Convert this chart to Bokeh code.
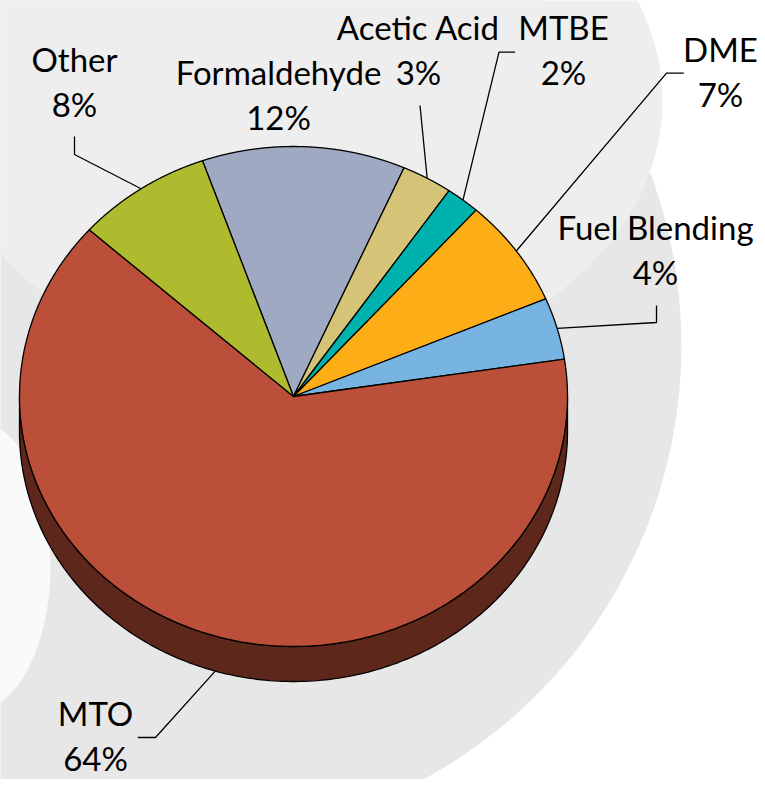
import numpy as np
from bokeh.plotting import figure
from bokeh.models import Range1d
from bokeh.embed import file_html
from bokeh.resources import INLINE
from bokeh.core.properties import value

# ---------------- data ----------------
categories = ["Formaldehyde", "Acetic Acid", "MTBE", "DME", "Fuel Blending", "MTO", "Other"]
shares = [12, 3, 2, 7, 4, 64, 8]
pct_labels = ["12%", "3%", "2%", "7%", "4%", "64%", "8%"]

# ---------------- style ----------------
colors = ["#9FA9C1", "#D5C378", "#00B2AE", "#FDAE17", "#78B4E2", "#BC4F39", "#AEBB2F"]
CX, CY = 293.0, 396.0        # pie centre (screen px)
RX, RY = 274.0, 250.0        # ellipse radii
DEPTH = 35.0                 # 3-D thickness
START = -19.4                # start angle, degrees clockwise from top
FONT = "Lato"
FSIZE = "33px"
LINE_GAP = 45
TEXT_DY = -14                # renderer baseline correction
W, H = 757, 779

# label layout: (centre x, baseline of first line, leader-line elbow points)
layout = {
    "Formaldehyde": (278, 85, []),
    "Acetic Acid": (418, 40, [(419.5, 105)]),
    "MTBE": (563, 40, [(514.6, 51.7), (498.5, 51.7)]),
    "DME": (720, 62, [(683.3, 72.7), (666, 72.7)]),
    "Fuel Blending": (655, 240, [(656, 305), (656, 322)]),
    "MTO": (95, 726, [(137.3, 737), (155, 737)]),
    "Other": (74, 72, [(74, 136), (74, 154)]),
}


def pt(theta_deg, dy=0.0):
    t = np.radians(theta_deg)
    return CX + RX * np.sin(t), CY - RY * np.cos(t) + dy


def darker(hexc, f=0.5):
    h = hexc.lstrip("#")
    r, g, b = (int(h[i:i + 2], 16) for i in (0, 2, 4))
    return "#%02x%02x%02x" % (int(r * f), int(g * f), int(b * f))


total = float(sum(shares))
bounds = np.concatenate([[0], np.cumsum(shares)]) / total * 360.0 + START

p = figure(width=W, height=H, x_range=Range1d(0, W), y_range=Range1d(H, 0),
           output_backend="svg", toolbar_location=None,
           x_axis_location=None, y_axis_location=None, min_border=0)
p.outline_line_color = None
p.xgrid.visible = False
p.ygrid.visible = False
p.background_fill_color = "white"
p.border_fill_color = "white"

# background swoosh decoration
p.ellipse(x=187, y=345, width=988, height=988, fill_color="#e7e7e8", line_color=None)
p.ellipse(x=300, y=100, width=724, height=548, fill_color="#eeeeef", line_color=None)
p.ellipse(x=-25, y=565, width=150, height=290, fill_color="#ffffff", fill_alpha=0.8, line_color=None)

# 3-D side walls (lower half only)
side_xs, side_ys, side_cols = [], [], []
for i, c in enumerate(colors):
    a0, a1 = bounds[i], bounds[i + 1]
    for off in (0, 360, -360):
        lo, hi = max(a0 + off, 90), min(a1 + off, 270)
        if hi > lo:
            th = np.linspace(lo, hi, 200)
            xt, yt = pt(th)
            xb, yb = pt(th[::-1], DEPTH)
            side_xs.append(list(np.concatenate([xt, xb])))
            side_ys.append(list(np.concatenate([yt, yb])))
            side_cols.append(darker(c))
p.patches(xs=side_xs, ys=side_ys, fill_color=side_cols, line_color="black", line_width=1.3)

# top faces
top_xs, top_ys = [], []
for i in range(len(shares)):
    th = np.linspace(bounds[i], bounds[i + 1], 400)
    x, y = pt(th)
    top_xs.append([CX] + list(x))
    top_ys.append([CY] + list(y))
p.patches(xs=top_xs, ys=top_ys, fill_color=colors, line_color="black", line_width=1.3,
          line_join="round")

# labels and leader lines
for i, name in enumerate(categories):
    lx, base, elbows = layout[name]
    p.text(x=[lx, lx], y=[base + TEXT_DY, base + LINE_GAP + TEXT_DY],
           text=[name, pct_labels[i]],
           text_align="center", text_baseline="alphabetic",
           text_font=value(FONT), text_font_size=FSIZE, text_color="black")
    if elbows:
        mid = (bounds[i] + bounds[i + 1]) / 2.0
        m = mid % 360
        dy = DEPTH if 90 < m < 270 else 0.0
        ex, ey = pt(mid, dy)
        xs = [e[0] for e in elbows] + [float(ex)]
        ys = [e[1] for e in elbows] + [float(ey)]
        p.line(x=xs, y=ys, line_color="black", line_width=1.3)

open("out.html", "w").write(file_html(p, INLINE))
